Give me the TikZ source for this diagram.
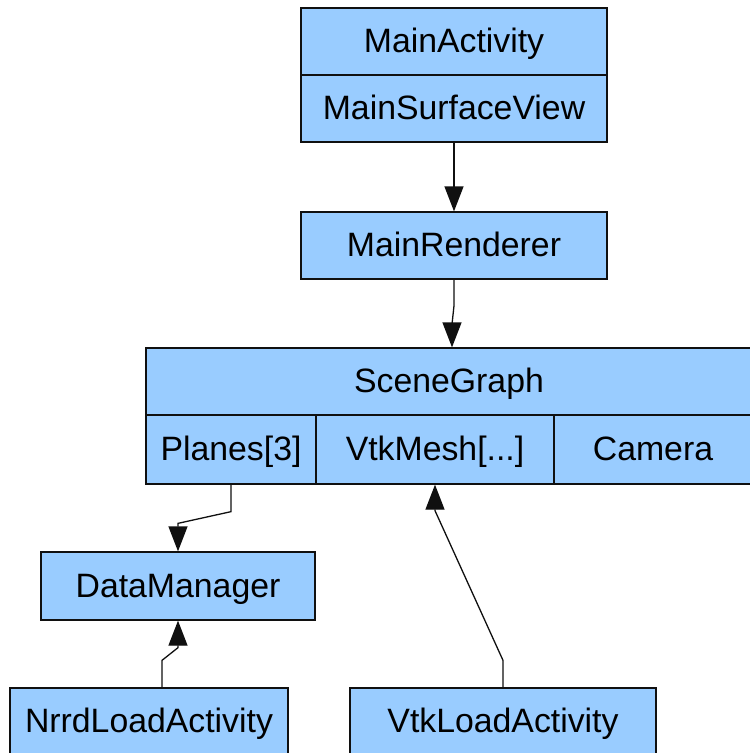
\documentclass[tikz,border=0pt]{standalone}
\usepackage{fontspec}
\setmainfont{Liberation Sans}
\usetikzlibrary{arrows.meta}
\definecolor{BoxFill}{HTML}{99CCFF}
\definecolor{Line}{HTML}{101010}

\begin{document}
\begin{tikzpicture}[x=1pt,y=-1pt,
    box/.style={draw=Line,fill=BoxFill,line width=1.3pt,inner sep=0pt,
      font=\fontsize{33.8}{38}\selectfont,text height=24pt,text depth=2pt,
      minimum height=67pt},
    flow/.style={draw=Line,line width=1.3pt,-{Triangle[width=19pt,length=25pt]}}]
  \useasboundingbox (0,0) rectangle (750,753);
  \clip (0,0) rectangle (750,753);
  % top class with its view
  \node[box,minimum width=306pt] (mainact) at (454,41.5) {MainActivity};
  \node[box,minimum width=306pt] (surfview) at (454,108.5) {MainSurfaceView};
  \node[box,minimum width=306pt] (renderer) at (454,245.5) {MainRenderer};
  % scene graph and its members
  \node[box,minimum width=606pt] (scenegraph) at (449,381.5) {SceneGraph};
  \node[box,minimum width=170pt,minimum height=69pt] (planes) at (231,449.5) {Planes[3]};
  \node[box,minimum width=238pt,minimum height=69pt] (vtkmesh) at (435,449.5) {VtkMesh[...]};
  \node[box,minimum width=198pt,minimum height=69pt] (camera) at (653,449.5) {Camera};
  % data side
  \node[box,minimum width=274pt,minimum height=68pt] (datamgr) at (178,586) {DataManager};
  \node[box,minimum width=278pt] (nrrd) at (149,721.5) {NrrdLoadActivity};
  \node[box,minimum width=306pt] (vtkload) at (503,721.5) {VtkLoadActivity};

  \draw[flow] (surfview.south) -- (renderer.north);
  \draw[flow] (renderer.south) -- ++(0,26)
    -- ([xshift=-2pt,yshift=23pt]renderer.south |- scenegraph.north)
    -- ([xshift=-2pt]renderer.south |- scenegraph.north);
  \draw[flow] (planes.south) -- ++(0,27) -- ([yshift=28pt]datamgr.north) -- (datamgr.north);
  \draw[flow] ([xshift=13pt]nrrd.north) -- ++(0,-27) -- ([yshift=-27pt]datamgr.south) -- (datamgr.south);
  \draw[flow] (vtkload.north) -- ++(0,-27) -- ([yshift=-26pt]vtkmesh.south) -- (vtkmesh.south);
\end{tikzpicture}
\end{document}
